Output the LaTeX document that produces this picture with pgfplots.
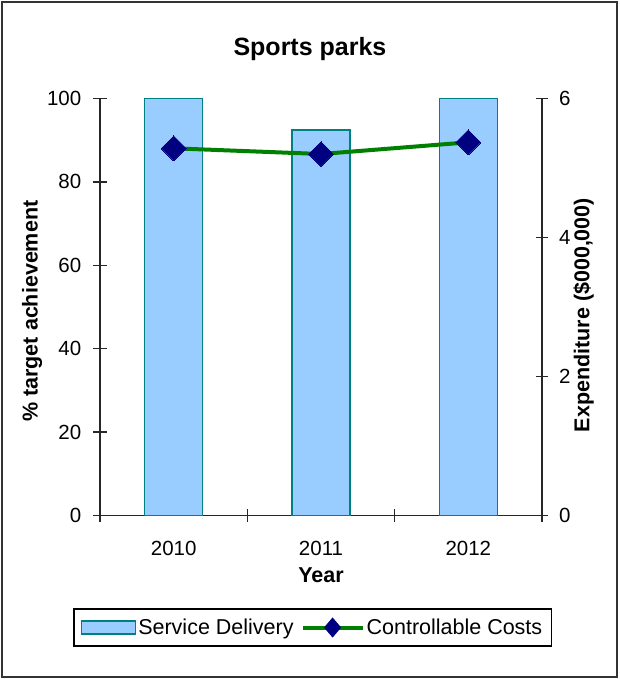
\documentclass[border=0pt]{standalone}
\usepackage{fontspec}
\setmainfont{Liberation Sans}
\usepackage{pgfplots}
\pgfplotsset{compat=1.18}
\definecolor{barfill}{RGB}{153,204,255}
\definecolor{baredge}{RGB}{0,128,128}
\definecolor{linegreen}{RGB}{0,128,0}
\definecolor{navymark}{RGB}{0,0,128}
\begin{document}
\begin{tikzpicture}
\useasboundingbox (0pt,0pt) rectangle (619pt,679pt);
\draw[line width=1.5pt, black!80] (2pt,2pt) rectangle (617pt,677pt);
\begin{axis}[
  at={(100pt,163.3pt)}, anchor=south west,
  width=442pt, height=417.4pt, scale only axis,
  xmin=-0.5, xmax=2.5, ymin=0, ymax=100,
  axis x line*=bottom, axis y line*=left,
  axis line style={-, line width=1.5pt, black!85},
  tick style={line width=1.5pt, black!85},
  tick align=center, major tick length=13pt,
  xtick={-0.5,0.5,1.5,2.5}, xticklabels={},
  extra x ticks={0,1,2}, extra x tick labels={2010,2011,2012},
  extra x tick style={major tick length=0pt},
  ytick={0,20,40,60,80,100},
  /pgf/number format/assume math mode=true,
  ticklabel style={font=\fontsize{20.5}{24}\selectfont},
  xticklabel style={anchor=base, inner sep=0pt, yshift=-39.5pt},
  yticklabel style={anchor=east, inner sep=0pt, xshift=-12pt},
  title={Sports parks},
  title style={at={(axis description cs:0.475,1)}, anchor=base, yshift=36.6pt, font=\fontsize{25}{28}\selectfont\bfseries},
  xlabel={Year},
  xlabel style={at={(axis description cs:0.5,0)}, anchor=base, yshift=-67pt, font=\fontsize{21.5}{25}\selectfont\bfseries},
  ylabel={\% target achievement},
  ylabel style={at={(axis description cs:-0.1538,0.49)}, anchor=center, font=\fontsize{21.5}{25}\selectfont\bfseries},
  clip=false,
]
\addplot[ybar, bar width=58pt, fill=barfill, draw=baredge, line width=1.3pt]
  coordinates {(0,100) (1,92.4) (2,100)};
\end{axis}
\begin{axis}[
  at={(100pt,163.3pt)}, anchor=south west,
  width=442pt, height=417.4pt, scale only axis,
  xmin=-0.5, xmax=2.5, ymin=0, ymax=6,
  axis y line*=right, axis x line=none,
  axis line style={-, line width=1.5pt, black!85},
  tick style={line width=1.5pt, black!85},
  tick align=center, major tick length=12pt,
  ytick={0,2,4,6},
  /pgf/number format/assume math mode=true,
  ticklabel style={font=\fontsize{20.5}{24}\selectfont},
  yticklabel style={anchor=west, inner sep=0pt, xshift=11pt},
  ylabel={Expenditure (\$000,000)},
  ylabel style={at={(axis description cs:1.094,0.4807)}, anchor=center, font=\fontsize{21.5}{25}\selectfont\bfseries},
  legend style={at={(axis description cs:0.4808,-0.2679)}, anchor=center,
    draw=black, line width=1.5pt, inner xsep=7pt, inner ysep=8pt,
    font=\fontsize{21.5}{25}\selectfont, legend columns=2,
    /tikz/every even column/.append style={column sep=5pt}},
  clip=false,
]
\addlegendimage{legend image code/.code={\draw[fill=barfill, draw=baredge, line width=1.5pt] (0pt,-6.5pt) rectangle (54pt,6.5pt);}}
\addplot[linegreen, line width=4pt, mark=square*, mark size=8.8pt,
  mark options={rotate=45, fill=navymark, draw=navymark, line width=0pt},
  legend image code/.code={\draw[linegreen, line width=4pt] (0pt,0pt) -- (60pt,0pt);
    \fill[navymark] (30pt,7pt) -- (36pt,0pt) -- (30pt,-7pt) -- (24pt,0pt) -- cycle;}]
  coordinates {(0,5.281) (1,5.199) (2,5.367)};
\legend{Service Delivery, Controllable Costs}
\end{axis}
\end{tikzpicture}
\end{document}
